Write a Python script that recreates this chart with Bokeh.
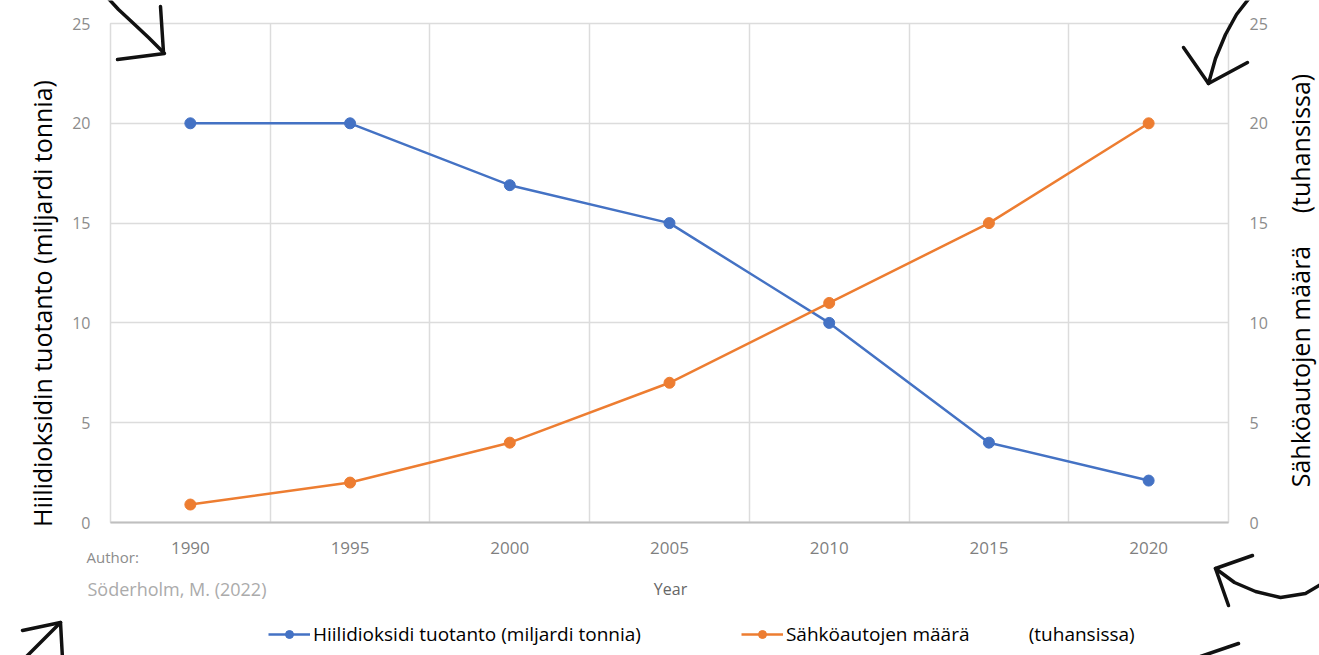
import math
from bokeh.plotting import figure
from bokeh.models import (Range1d, LinearAxis, FixedTicker, Label, Legend, LegendItem)
from bokeh.embed import file_html
from bokeh.resources import INLINE

# ---------------- data ----------------
years = [1990, 1995, 2000, 2005, 2010, 2015, 2020]
co2 = [20, 20, 16.9, 15, 10, 4, 2.1]           # Hiilidioksidi tuotanto (miljardi tonnia)
ev = [0.9, 2, 4, 7, 11, 15, 20]                # Sähköautojen määrä (tuhansissa)
y_ticks = [0, 5, 10, 15, 20, 25]
co2_name = "Hiilidioksidi tuotanto (miljardi tonnia)"
ev_name = "Sähköautojen määrä" + "\u00a0" * 12 + "(tuhansissa)"
left_title = "Hiilidioksidin tuotanto (miljardi tonnia)"
right_title = "Sähköautojen määrä" + "\u00a0" * 5 + "(tuhansissa)"

BLUE = "#4472C4"
ORANGE = "#ED7D31"
GRID = "#dcdcdc"
FONT = "Open Sans"

W, H = 1319, 655
# frame in page pixels
X0, X1, YT, YB = 110, 1228, 23, 522
XMIN, XMAX = 1987.5, 2022.5
YMIN, YMAX = 0, 25

p = figure(width=W, height=H, output_backend="svg", toolbar_location=None,
           x_range=Range1d(XMIN, XMAX), y_range=Range1d(YMIN, YMAX),
           min_border_left=X0, min_border_right=W - X1,
           min_border_top=YT, min_border_bottom=H - YB)
p.extra_y_ranges = {"right": Range1d(YMIN, YMAX)}
p.outline_line_color = GRID
p.outline_line_width = 1.5
p.background_fill_color = "white"
p.border_fill_color = "white"

# grids
p.xgrid.ticker = FixedTicker(ticks=[y + 2.5 for y in years[:-1]])
p.ygrid.ticker = FixedTicker(ticks=y_ticks[1:])
for g in (p.xgrid[0], p.ygrid[0]):
    g.grid_line_color = GRID
    g.grid_line_width = 1.5

# axes
xa = p.xaxis[0]
xa.ticker = FixedTicker(ticks=years)
xa.axis_line_color = "#bfbfbf"
xa.axis_line_width = 2
xa.major_tick_line_color = None
xa.major_tick_out = 0
xa.minor_tick_line_color = None
xa.minor_tick_out = 0
xa.major_label_standoff = 19
xa.major_label_text_font = FONT
xa.major_label_text_font_size = "17px"
xa.major_label_text_color = "#7f7f7f"

ya = p.yaxis[0]
ra = LinearAxis(y_range_name="right")
p.add_layout(ra, "right")
for a in (ya, ra):
    a.ticker = FixedTicker(ticks=y_ticks)
    a.axis_line_color = None
    a.major_tick_line_color = None
    a.major_tick_out = 0
    a.minor_tick_line_color = None
    a.minor_tick_out = 0
    a.major_label_text_font = FONT
    a.major_label_text_font_size = "16px"
    a.major_label_text_color = "#8c8c8c"
ya.major_label_standoff = 20
ra.major_label_standoff = 21

# series
p.line(years, co2, line_color=BLUE, line_width=2.5)
p.scatter(years, co2, size=11, fill_color=BLUE, line_color=BLUE)
p.line(years, ev, line_color=ORANGE, line_width=2.5, y_range_name="right")
p.scatter(years, ev, size=11, fill_color=ORANGE, line_color=ORANGE, y_range_name="right")

# helpers for page-pixel -> data coordinates (text placement outside the frame)
SX = (X1 - X0) / (XMAX - XMIN)
SY = (YB - YT) / (YMAX - YMIN)
def dx(px):
    return XMIN + (px - X0) / SX
def dy(py):
    return YMIN + (YB - py) / SY

def label(place, px, py, text, size, color, align="left", angle=0.0):
    p.add_layout(Label(x=dx(px), y=dy(py), text=text, text_font=FONT,
                       text_font_size=size, text_color=color, text_align=align,
                       text_baseline="middle", angle=angle), place)

# axis titles and notes
label("left", 41, 303, left_title, "25px", "black", align="center", angle=math.pi / 2)
label("right", 1299, 280, right_title, "25px", "black", align="center", angle=math.pi / 2)
label("left", 670, 588, "Year", "16px", "#666666", align="center")
label("above", 86, 556, "Author:", "15px", "#8c8c8c")
label("below", 87, 588, "Söderholm, M. (2022)", "18px", "#ababab")

# ---- transparent overlay (same size, page-pixel coordinates) for the legend
# ---- and the hand-drawn arrows that lie outside the plot frame
o = figure(width=W, height=H, output_backend="svg", toolbar_location=None,
           x_range=Range1d(0, W), y_range=Range1d(H, 0),
           x_axis_type=None, y_axis_type=None,
           min_border=0, min_border_left=0, min_border_right=0,
           min_border_top=0, min_border_bottom=0,
           background_fill_alpha=0, border_fill_alpha=0, outline_line_color=None,
           styles={"position": "absolute", "top": "0px", "left": "0px"})

# legend proxies: the same series, which fall outside this overlay's pixel range
lb = o.line(years, co2, line_color=BLUE, line_width=2.5)
sb = o.scatter(years, co2, size=11, fill_color=BLUE, line_color=BLUE)
lo = o.line(years, ev, line_color=ORANGE, line_width=2.5)
so = o.scatter(years, ev, size=11, fill_color=ORANGE, line_color=ORANGE)
legend = Legend(items=[LegendItem(label=co2_name, renderers=[lb, sb]),
                       LegendItem(label=ev_name, renderers=[lo, so])],
                orientation="horizontal", location=(268, 8),
                glyph_width=42, glyph_height=20, label_standoff=3, spacing=100,
                padding=0, margin=0, border_line_alpha=0, background_fill_alpha=0,
                label_text_font=FONT, label_text_font_size="19px",
                label_text_color="black")
o.add_layout(legend)

arrows_x = [
    [106, 118, 132, 148, 163], [160, 163], [117, 164],
    [1250, 1236, 1225, 1215, 1208], [1183, 1208, 1247],
    [1252, 1215, 1228], [1215, 1234, 1255, 1280, 1305, 1322],
    [1200, 1238], [22, 60, 62], [60, 22],
]
arrows_y = [
    [-4, 9, 22, 37, 52], [6, 52], [59, 53],
    [-4, 14, 34, 58, 83], [47, 83, 62],
    [555, 568, 605], [568, 582, 591, 597, 593, 583],
    [656, 643], [630, 622, 658], [622, 660],
]
o.multi_line(arrows_x, arrows_y, line_color="#111111", line_width=3.5,
             line_cap="round", line_join="round")

open("out.html", "w").write(file_html([p, o], INLINE))
